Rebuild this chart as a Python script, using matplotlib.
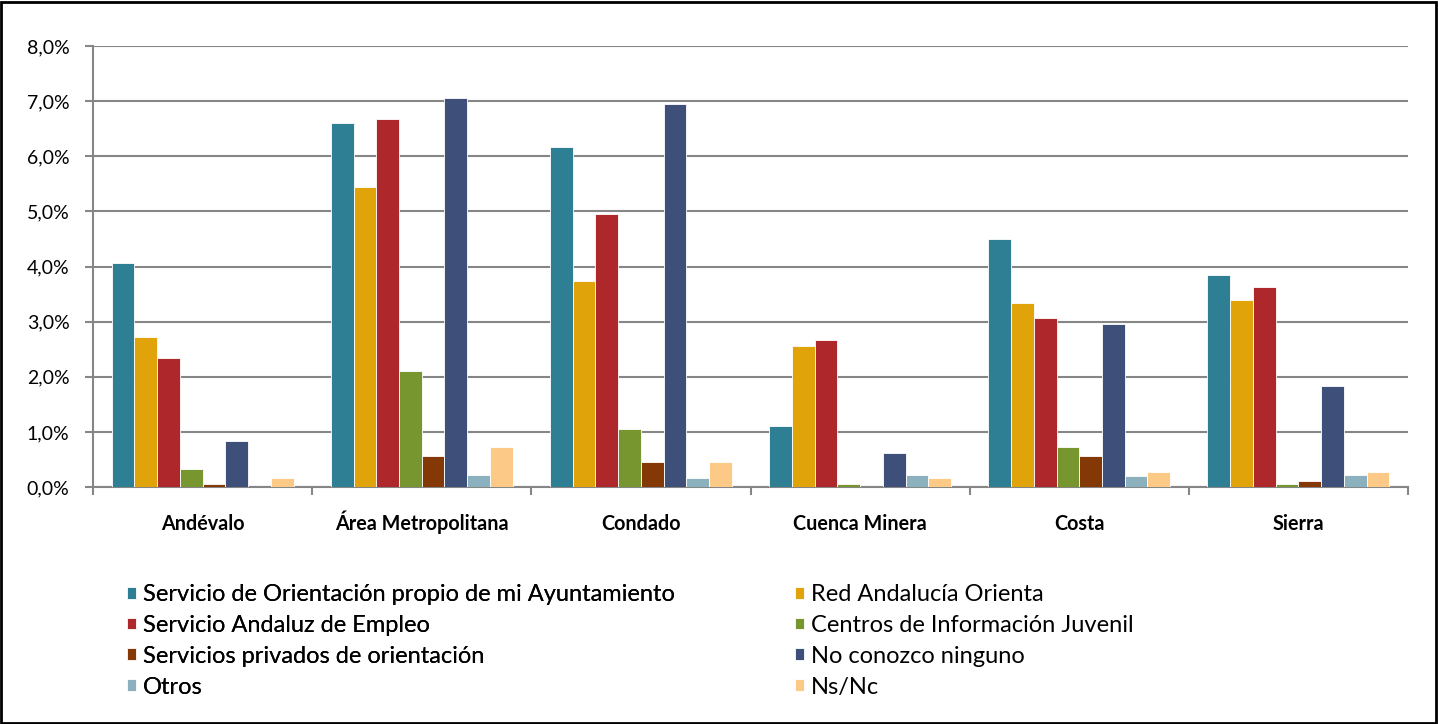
import matplotlib
matplotlib.use("Agg")
import matplotlib.pyplot as plt
import numpy as np
from matplotlib.patches import Rectangle
from matplotlib.transforms import blended_transform_factory

categories = ["Andévalo", "Área Metropolitana", "Condado", "Cuenca Minera", "Costa", "Sierra"]
series_names = [
    "Servicio de Orientación propio de mi Ayuntamiento",
    "Red Andalucía Orienta",
    "Servicio Andaluz de Empleo",
    "Centros de Información Juvenil",
    "Servicios privados de orientación",
    "No conozco ninguno",
    "Otros",
    "Ns/Nc",
]
ayuntamiento = [4.06, 6.61, 6.16, 1.11, 4.50, 3.84]
red_orienta = [2.73, 5.44, 3.73, 2.56, 3.33, 3.39]
sae = [2.34, 6.67, 4.95, 2.67, 3.06, 3.62]
juvenil = [0.33, 2.11, 1.06, 0.05, 0.72, 0.05]
privados = [0.06, 0.56, 0.45, 0.00, 0.56, 0.11]
ninguno = [0.83, 7.05, 6.95, 0.61, 2.95, 1.84]
otros = [0.00, 0.22, 0.17, 0.22, 0.20, 0.22]
nsnc = [0.17, 0.73, 0.45, 0.17, 0.28, 0.28]
yticks = [0, 1, 2, 3, 4, 5, 6, 7, 8]
ytick_labels = ["0,0%", "1,0%", "2,0%", "3,0%", "4,0%", "5,0%", "6,0%", "7,0%", "8,0%"]

series = [ayuntamiento, red_orienta, sae, juvenil, privados, ninguno, otros, nsnc]
colors = ["#2E7F93", "#E0A30A", "#AD272B", "#77962F", "#833806", "#3E4F7A", "#8BB1BE", "#FCC987"]

W, H = 1438, 724
plt.rcParams["font.family"] = ["Lato", "DejaVu Sans"]
fig = plt.figure(figsize=(W / 100, H / 100), dpi=100)

ax = fig.add_axes([93 / W, 1 - 487 / H, (1408 - 93) / W, (487 - 46) / H])
n = len(series)
group = 0.83
bw = group / n
x = np.arange(len(categories))
handles = []
for i, (vals, c) in enumerate(zip(series, colors)):
    b = ax.bar(x - group / 2 + bw * (i + 0.5), vals, width=bw, color=c,
               edgecolor="white", linewidth=0.6, label=series_names[i], zorder=3)
    handles.append(b)

ax.set_xlim(-0.5, len(categories) - 0.5)
ax.set_ylim(0, 8)
ax.set_yticks(yticks)
ax.set_yticklabels(ytick_labels, fontsize=14, color="#000000")
ax.yaxis.grid(True, color="#868686", linewidth=1.5, zorder=0)
ax.set_axisbelow(True)
ax.set_xticks(np.arange(len(categories) + 1) - 0.5)
ax.set_xticklabels([])
ax.tick_params(axis="x", length=6, width=1.5, color="#868686")
ax.tick_params(axis="y", length=6, width=1.5, color="#868686", pad=11)
for s in ["top", "right"]:
    ax.spines[s].set_visible(False)
for s in ["left", "bottom"]:
    ax.spines[s].set_color("#868686")
    ax.spines[s].set_linewidth(1.5)

trans = blended_transform_factory(ax.transData, fig.transFigure)
for xi, cat in zip(x, categories):
    ax.text(xi, 1 - 530 / H, cat, transform=trans, ha="center", va="baseline",
            fontsize=14.2, fontweight="bold")

leg_kw = dict(loc="upper left", frameon=False, fontsize=17, handlelength=0.4,
              handleheight=0.4, handletextpad=0.28, labelspacing=0.42, borderpad=0,
              borderaxespad=0)
leg1 = fig.legend([handles[i] for i in (0, 2, 4, 6)], [series_names[i] for i in (0, 2, 4, 6)],
                  bbox_to_anchor=(127 / W, 1 - 584 / H), **leg_kw)
fig.add_artist(leg1)
leg2 = fig.legend([handles[i] for i in (1, 3, 5, 7)], [series_names[i] for i in (1, 3, 5, 7)],
                  bbox_to_anchor=(795 / W, 1 - 584 / H), **leg_kw)

fig.patches.append(Rectangle((1 / W, 1 / H), 1 - 3 / W, 1 - 3 / H, transform=fig.transFigure,
                             fill=False, edgecolor="black", linewidth=2))
fig.savefig("out.png", dpi=100)
